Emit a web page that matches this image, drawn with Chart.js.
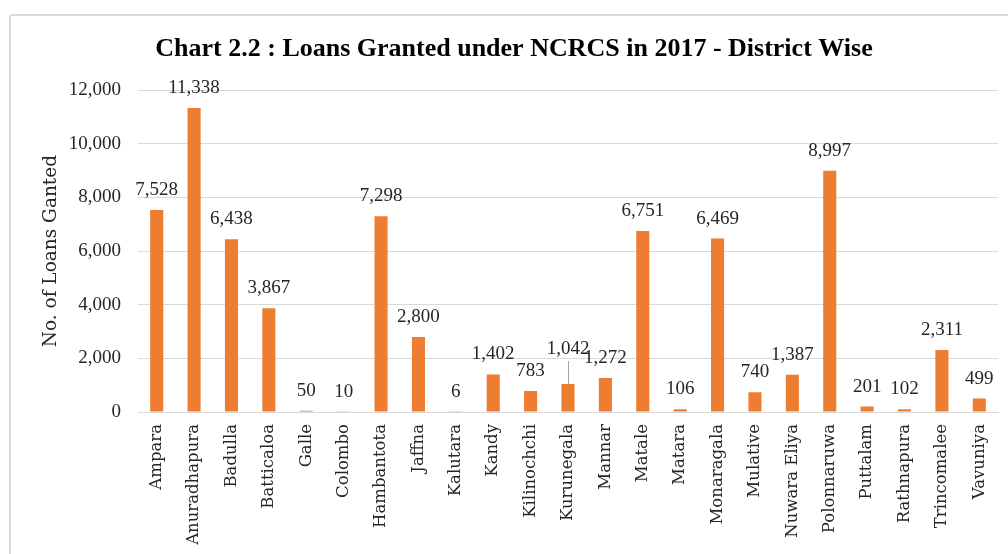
<!DOCTYPE html>
<html>
<head>
<meta charset="utf-8">
<script src="https://cdn.jsdelivr.net/npm/chart.js@4/dist/chart.umd.min.js"></script>
<style>
  html, body { margin: 0; padding: 0; background: #fff; }
  #frame { position: absolute; left: 9px; top: 14px; width: 1010px; height: 560px; border: 2px solid #d9d9d9; border-radius: 3px; box-sizing: border-box; }
  #wrap { position: absolute; left: 0; top: 0; width: 1008px; height: 554px; }
</style>
</head>
<body>
<div id="frame"></div>
<div id="wrap"><canvas id="c" width="1008" height="554"></canvas></div>
<script>
const districts = ["Ampara","Anuradhapura","Badulla","Batticaloa","Galle","Colombo","Hambantota","Jaffna","Kalutara","Kandy","Kilinochchi","Kurunegala","Mannar","Matale","Matara","Monaragala","Mulative","Nuwara Eliya","Polonnaruwa","Puttalam","Rathnapura","Trincomalee","Vavuniya"];
const loans = [7528,11338,6438,3867,50,10,7298,2800,6,1402,783,1042,1272,6751,106,6469,740,1387,8997,201,102,2311,499];
const yTicks = [0,2000,4000,6000,8000,10000,12000];

const SERIF_A = "'Liberation Serif', 'DejaVu Serif', serif";
const SERIF_B = "'DejaVu Serif', 'Liberation Serif', serif";
const fmt = v => v.toLocaleString('en-US');

const labelPlugin = {
  id: 'barLabels',
  afterDatasetsDraw(chart, args, opts) {
    const ctx = chart.ctx;
    const meta = chart.getDatasetMeta(0);
    ctx.save();
    ctx.font = opts.font;
    ctx.fillStyle = opts.color;
    ctx.textAlign = 'center';
    ctx.textBaseline = 'middle';
    meta.data.forEach((bar, i) => {
      const lift = (opts.lift && opts.lift[districts[i]]) || 0;
      const y = bar.y - opts.offset - lift;
      if (lift) {
        ctx.strokeStyle = '#a6a6a6';
        ctx.lineWidth = 1;
        ctx.beginPath();
        ctx.moveTo(Math.round(bar.x) + 0.5, y + 12);
        ctx.lineTo(Math.round(bar.x) + 0.5, bar.y);
        ctx.stroke();
      }
      ctx.fillText(fmt(loans[i]), bar.x, y);
    });
    ctx.restore();
  }
};

new Chart(document.getElementById('c'), {
  type: 'bar',
  data: {
    labels: districts,
    datasets: [{
      data: loans,
      backgroundColor: '#ED7D31',
      borderWidth: 0,
      barPercentage: 0.35,
      categoryPercentage: 1.0
    }]
  },
  plugins: [labelPlugin],
  options: {
    responsive: false,
    animation: false,
    layout: { padding: { left: 30, right: 10, top: 0, bottom: 0 } },
    plugins: {
      legend: { display: false },
      tooltip: { enabled: false },
      title: {
        display: true,
        text: 'Chart 2.2 : Loans Granted under NCRCS in 2017 - District Wise',
        color: '#000',
        font: { family: SERIF_A, size: 26, weight: 'bold' },
        padding: { top: 34, bottom: 25 }
      },
      barLabels: {
        font: "19px " + SERIF_A,
        color: '#262626',
        offset: 20,
        lift: { "Kurunegala": 15 }
      }
    },
    scales: {
      x: {
        afterFit: s => { s.height = 142; s.paddingLeft = 0; s.paddingRight = 0; },
        grid: { display: false, drawTicks: false },
        border: { display: true, color: '#d9d9d9' },
        ticks: {
          color: '#262626',
          font: { family: SERIF_B, size: 16.5 },
          maxRotation: 90, minRotation: 90,
          autoSkip: false,
          padding: 12
        }
      },
      y: {
        min: 0, max: 12000,
        afterBuildTicks: s => { s.ticks = yTicks.map(v => ({ value: v })); },
        afterFit: s => { s.width = 108; },
        grid: { color: '#d9d9d9', drawTicks: false },
        border: { display: false },
        ticks: {
          color: '#262626',
          font: { family: SERIF_A, size: 19 },
          padding: 17,
          callback: v => fmt(v)
        },
        title: {
          display: true,
          text: 'No. of Loans Ganted',
          color: '#262626',
          font: { family: SERIF_B, size: 18.5 },
          padding: { top: 10, bottom: 0 }
        }
      }
    }
  }
});
</script>
</body>
</html>
